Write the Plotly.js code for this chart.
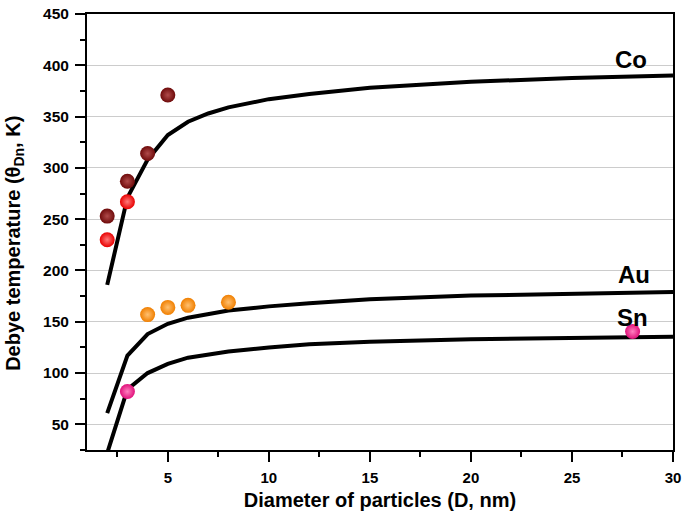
<!DOCTYPE html>
<html>
<head>
<meta charset="utf-8">
<script src="https://cdn.plot.ly/plotly-3.0.1.min.js"></script>
<style>html,body{margin:0;padding:0;background:#fff;}#chart{width:685px;height:524px;}</style>
</head>
<body>
<div id="chart"></div>
<script>
// Model curves
const curveD = [2, 3, 4, 5, 6, 7, 8, 9, 10, 12, 15, 20, 25, 30];
const coCurve = [186, 271, 308, 332, 345, 353, 359, 363, 367, 372, 378, 384, 387.5, 390];
const auCurve = [61, 117, 138, 148, 154, 158, 161, 163, 165, 168, 172, 175.5, 177.5, 179];
const snCurve = [22, 84, 100, 109, 115, 118, 121, 123, 125, 128, 130.5, 133, 134.5, 135.5];

// Experimental points
const coPtsD = [2, 3, 4, 5];
const coPts = [253, 287, 314, 371];
const redPtsD = [2, 3];
const redPts = [230, 267];
const auPtsD = [4, 5, 6, 8];
const auPts = [157, 164, 166, 169];
const snPtsD = [3, 28];
const snPts = [82, 140.5];

// Labels
const labelText = ['Co', 'Au', 'Sn'];
const labelX = [27.9, 28.05, 28.0];
const labelY = [406, 196, 154.5];

const font = 'Arial, "Liberation Sans", Helvetica, sans-serif';

function curve(y) {
  return {x: curveD, y: y, mode: 'lines', type: 'scatter',
    line: {color: '#000', width: 4}, hoverinfo: 'skip', showlegend: false};
}
function pts(x, y, col, light) {
  return {x: x, y: y, mode: 'markers', type: 'scatter', showlegend: false,
    cliponaxis: false,
    marker: {size: 15, color: col, line: {width: 0},
      gradient: {type: 'radial', color: light}}};
}

const data = [
  curve(coCurve), curve(auCurve), curve(snCurve),
  pts(coPtsD, coPts, '#6e0a0a', '#b04a4a'),
  pts(redPtsD, redPts, '#e80000', '#ff7a7a'),
  pts(auPtsD, auPts, '#f07f00', '#ffc070'),
  pts(snPtsD, snPts, '#e0107a', '#ff80c0')
];

const annotations = labelText.map((t, i) => ({
  x: labelX[i], y: labelY[i], text: '<b>' + t + '</b>', showarrow: false,
  font: {family: font, size: 24, color: '#000'}, xanchor: 'center', yanchor: 'middle'
}));
annotations.push({
  xref: 'paper', yref: 'paper', x: -0.123, y: 0.475, textangle: -90,
  text: '<b>Debye temperature (θ<sub>Dn</sub>, K)</b>', showarrow: false,
  font: {family: font, size: 20, color: '#000'}, xanchor: 'center', yanchor: 'middle'
});

const layout = {
  width: 685, height: 524,
  margin: {l: 87, r: 12, t: 14, b: 74},
  paper_bgcolor: '#fff', plot_bgcolor: '#fff',
  font: {family: font, color: '#000'},
  showlegend: false,
  annotations: annotations,
  xaxis: {
    range: [1, 30], tick0: 0, dtick: 5, ticks: 'outside', ticklen: 10, tickwidth: 2, tickcolor: '#000',
    showline: true, linecolor: '#000', linewidth: 2, mirror: true, showgrid: false, zeroline: false,
    ticklabelstandoff: 3,
    tickfont: {family: font, size: 15, color: '#000', weight: 'bold'},
    minor: {dtick: 2.5, tick0: 0, ticks: 'outside', ticklen: 5, tickwidth: 2, tickcolor: '#000', showgrid: false},
    title: {text: '<b>Diameter of particles (D, nm)</b>', font: {family: font, size: 20, color: '#000'}, standoff: 8}
  },
  yaxis: {
    range: [25, 450], tick0: 0, dtick: 50, ticks: 'outside', ticklen: 10, tickwidth: 2, tickcolor: '#000',
    showline: true, linecolor: '#000', linewidth: 2, mirror: true,
    showgrid: true, gridcolor: '#cccccc', gridwidth: 1, zeroline: false,
    ticklabelstandoff: 3,
    tickfont: {family: font, size: 15.5, color: '#000', weight: 'bold'},
    minor: {dtick: 25, tick0: 0, ticks: 'outside', ticklen: 5, tickwidth: 2, tickcolor: '#000', showgrid: false}
  }
};

Plotly.newPlot('chart', data, layout, {displayModeBar: false, staticPlot: true});
</script>
</body>
</html>
